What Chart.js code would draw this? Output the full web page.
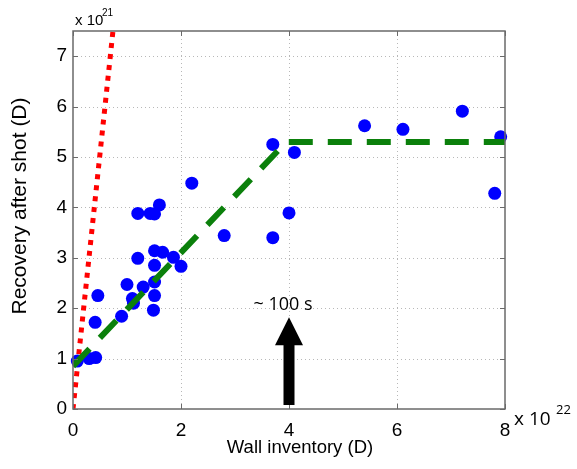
<!DOCTYPE html>
<html>
<head>
<meta charset="utf-8">
<script src="https://cdn.jsdelivr.net/npm/chart.js@4.4.0/dist/chart.umd.min.js"></script>
<style>
  body { margin: 0; background: #fff; }
  #wrap { width: 577px; height: 469px; }
</style>
</head>
<body>
<div id="wrap"><canvas id="canvas" width="577" height="469"></canvas></div>
<script>
// measured shots: wall inventory (x 1e22 D) vs recovery (x 1e21 D)
var inventory = [0.08, 0.3, 0.42, 0.41, 0.46, 0.9, 1.0, 1.1, 1.12, 1.3, 1.51, 1.51, 1.49,
                 1.2, 1.51, 1.66, 1.51, 1.86, 2.0, 1.2, 1.43, 1.51, 1.6, 2.2, 2.8,
                 3.7, 4.1, 4.0, 3.7, 5.4, 6.11, 7.21, 7.92, 7.81];
var recovery  = [0.95, 1.0, 1.02, 1.72, 2.25, 1.84, 2.47, 2.19, 2.1, 2.42, 2.52, 2.25, 1.96,
                 2.99, 3.14, 3.11, 2.85, 3.01, 2.83, 3.88, 3.88, 3.87, 4.05, 4.48, 3.44,
                 5.25, 5.09, 3.89, 3.40, 5.62, 5.55, 5.91, 5.40, 4.28];

// fitted trend (green dashed) and initial slope (red dotted)
var fitX = [0, 3.95, 8];
var fitY = [0.85, 5.3, 5.3];
var slopeX = [0, 0.74];
var slopeY = [0, 7.5];

// arrow marking ~100 s
var arrowX = 4.0;
var arrowFrom = 0.08;
var arrowTo = 1.82;
var arrowText = "~ 100 s";
var arrowTextY = 2.06;

var xTicks = [0, 2, 4, 6, 8];
var yTicks = [0, 1, 2, 3, 4, 5, 6, 7];

function pts(xs, ys) {
    var out = [];
    for (var i = 0; i < xs.length; i++) out.push({x: xs[i], y: ys[i]});
    return out;
}

var extras = {
    id: 'extras',
    beforeDatasetsDraw: function(chart) {
        var ctx = chart.ctx, a = chart.chartArea;
        var xs = chart.scales.x, ys = chart.scales.y;
        ctx.save();
        // dotted grid
        ctx.strokeStyle = '#b8b8b8';
        ctx.lineWidth = 1;
        ctx.setLineDash([1, 3]);
        xTicks.forEach(function(v) {
            if (v <= 0 || v >= 8) return;
            var px = Math.round(xs.getPixelForValue(v)) + 0.5;
            ctx.beginPath(); ctx.moveTo(px, a.top); ctx.lineTo(px, a.bottom); ctx.stroke();
        });
        yTicks.forEach(function(v) {
            if (v <= 0) return;
            var py = Math.round(ys.getPixelForValue(v)) + 0.5;
            ctx.beginPath(); ctx.moveTo(a.left, py); ctx.lineTo(a.right, py); ctx.stroke();
        });
        ctx.restore();
    },
    afterDatasetsDraw: function(chart) {
        var ctx = chart.ctx, a = chart.chartArea;
        var xs = chart.scales.x, ys = chart.scales.y;
        ctx.save();
        // box + inner ticks
        ctx.strokeStyle = '#6a6a6a';
        ctx.lineWidth = 1.5;
        ctx.strokeRect(a.left, a.top, a.right - a.left, a.bottom - a.top);
        ctx.lineWidth = 1;
        xTicks.forEach(function(v) {
            var px = Math.round(xs.getPixelForValue(v)) + 0.5;
            ctx.beginPath(); ctx.moveTo(px, a.bottom); ctx.lineTo(px, a.bottom - 5);
            ctx.moveTo(px, a.top); ctx.lineTo(px, a.top + 5); ctx.stroke();
        });
        yTicks.forEach(function(v) {
            var py = Math.round(ys.getPixelForValue(v)) + 0.5;
            ctx.beginPath(); ctx.moveTo(a.left, py); ctx.lineTo(a.left + 5, py);
            ctx.moveTo(a.right, py); ctx.lineTo(a.right - 5, py); ctx.stroke();
        });

        // arrow
        var ax = xs.getPixelForValue(arrowX);
        var y0 = ys.getPixelForValue(arrowFrom);
        var y1 = ys.getPixelForValue(arrowTo);
        ctx.fillStyle = '#000';
        ctx.beginPath();
        ctx.moveTo(ax - 5.5, y0);
        ctx.lineTo(ax - 5.5, y1 + 28);
        ctx.lineTo(ax - 14, y1 + 28);
        ctx.lineTo(ax, y1);
        ctx.lineTo(ax + 14, y1 + 28);
        ctx.lineTo(ax + 5.5, y1 + 28);
        ctx.lineTo(ax + 5.5, y0);
        ctx.closePath();
        ctx.fill();

        ctx.font = '18px "Open Sans", sans-serif';
        ctx.textAlign = 'center';
        ctx.textBaseline = 'middle';
        ctx.fillText(arrowText, ax - 6, ys.getPixelForValue(arrowTextY));

        // axis titles
        ctx.font = '18.5px "Liberation Sans", Arial, sans-serif';
        ctx.fillText('Wall inventory (D)', 300, 448);
        ctx.save();
        ctx.translate(20, 206);
        ctx.rotate(-Math.PI / 2);
        ctx.font = '21px "Liberation Sans", Arial, sans-serif';
        ctx.fillText('Recovery after shot (D)', 0, 0);
        ctx.restore();

        // exponent labels
        ctx.textAlign = 'left';
        ctx.textBaseline = 'alphabetic';
        ctx.font = '15px "Liberation Sans", Arial, sans-serif';
        ctx.fillText('x 10', 75, 25);
        ctx.font = '10px "Liberation Sans", Arial, sans-serif';
        ctx.fillText('21', 102, 16);
        ctx.font = '19px "Open Sans", sans-serif';
        ctx.fillText('x 10', 514, 425);
        ctx.font = '13px "Open Sans", sans-serif';
        ctx.fillText('22', 556, 414);
        ctx.restore();
    }
};

new Chart(document.getElementById('canvas'), {
    type: 'scatter',
    data: {
        datasets: [
            {
                label: 'slope',
                data: pts(slopeX, slopeY),
                showLine: true,
                borderColor: '#ff0000',
                borderWidth: 5,
                borderDash: [5, 6],
                pointRadius: 0,
                order: 3
            },
            {
                label: 'shots',
                data: pts(inventory, recovery),
                backgroundColor: '#0000ff',
                borderWidth: 0,
                pointRadius: 6.5,
                clip: false,
                order: 2
            },
            {
                label: 'fit',
                data: pts(fitX, fitY),
                showLine: true,
                borderColor: '#0b800b',
                borderWidth: 6,
                borderDash: [24, 15],
                pointRadius: 0,
                order: 1
            }
        ]
    },
    options: {
        responsive: false,
        animation: false,
        layout: { padding: { left: 0, right: 72, top: 31, bottom: 0 } },
        plugins: { legend: { display: false }, tooltip: { enabled: false } },
        scales: {
            x: {
                type: 'linear',
                min: 0, max: 8,
                afterBuildTicks: function(s) { s.ticks = xTicks.map(function(v) { return {value: v}; }); },
                afterFit: function(s) { s.height = 60; },
                grid: { display: false, drawTicks: false, tickLength: 0 },
                border: { display: false },
                ticks: { color: '#000', padding: 10, font: { size: 19, family: '"Liberation Sans", Arial, sans-serif' } }
            },
            y: {
                type: 'linear',
                min: 0, max: 7.5,
                afterBuildTicks: function(s) { s.ticks = yTicks.map(function(v) { return {value: v}; }); },
                afterFit: function(s) { s.width = 73; },
                grid: { display: false, drawTicks: false, tickLength: 0 },
                border: { display: false },
                ticks: { color: '#000', padding: 6, font: { size: 19, family: '"Liberation Sans", Arial, sans-serif' } }
            }
        }
    },
    plugins: [extras]
});
</script>
</body>
</html>
